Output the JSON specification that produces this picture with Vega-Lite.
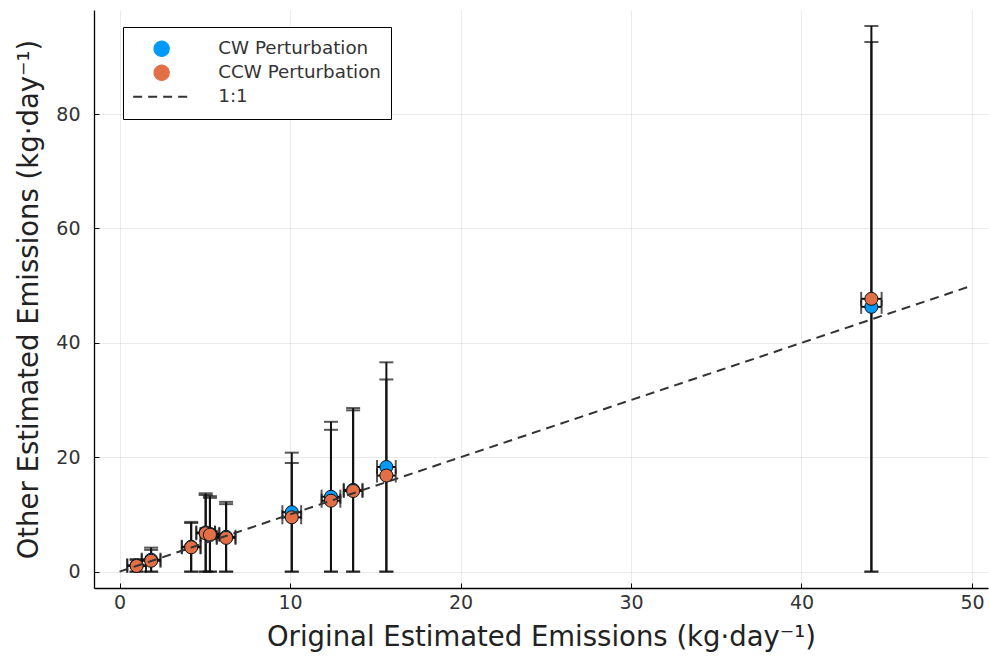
{
  "$schema": "https://vega.github.io/schema/vega-lite/v6.json",
  "width": 894,
  "height": 578,
  "autosize": "none",
  "padding": {"left": 94, "top": 10, "right": 1, "bottom": 69},
  "config": {
    "view": {"stroke": null},
    "font": "DejaVu Sans",
    "axis": {
      "domainColor": "#000000",
      "domainWidth": 1.3,
      "tickColor": "#000000",
      "tickSize": -5,
      "gridColor": "#000000",
      "gridOpacity": 0.08,
      "gridWidth": 1,
      "labelFont": "DejaVu Sans",
      "labelFontSize": 19,
      "labelColor": "#333333",
      "titleFont": "DejaVu Sans",
      "titleFontSize": 27.5,
      "titleFontWeight": "normal",
      "titleColor": "#222222"
    },
    "legend": {
      "orient": "none",
      "legendX": 29,
      "legendY": 17,
      "title": null,
      "strokeColor": "#000000",
      "fillColor": "#ffffff",
      "padding": 10,
      "labelFont": "DejaVu Sans",
      "labelFontSize": 18.3,
      "labelColor": "#333333",
      "labelLimit": 400,
      "rowPadding": 0,
      "clipHeight": 23.5,
      "symbolOffset": 19.5,
      "labelOffset": 47.5
    }
  },
  "datasets": {
    "runs": [
      {"orig": 1.0, "series": "CW Perturbation", "est": 1.1, "lo": 0, "hi": 2.2, "xlo": 0.45, "xhi": 1.55},
      {"orig": 1.85, "series": "CW Perturbation", "est": 2.1, "lo": 0, "hi": 4.2, "xlo": 1.3, "xhi": 2.4},
      {"orig": 4.2, "series": "CW Perturbation", "est": 4.35, "lo": 0, "hi": 8.7, "xlo": 3.65, "xhi": 4.75},
      {"orig": 5.05, "series": "CW Perturbation", "est": 6.85, "lo": 0, "hi": 13.7, "xlo": 4.5, "xhi": 5.6},
      {"orig": 5.3, "series": "CW Perturbation", "est": 6.6, "lo": 0, "hi": 13.2, "xlo": 4.75, "xhi": 5.85},
      {"orig": 6.25, "series": "CW Perturbation", "est": 6.1, "lo": 0, "hi": 12.2, "xlo": 5.7, "xhi": 6.8},
      {"orig": 10.1, "series": "CW Perturbation", "est": 10.4, "lo": 0, "hi": 20.8, "xlo": 9.55, "xhi": 10.65},
      {"orig": 12.4, "series": "CW Perturbation", "est": 13.1, "lo": 0, "hi": 26.2, "xlo": 11.85, "xhi": 12.95},
      {"orig": 13.7, "series": "CW Perturbation", "est": 14.3, "lo": 0, "hi": 28.6, "xlo": 13.15, "xhi": 14.25},
      {"orig": 15.65, "series": "CW Perturbation", "est": 18.3, "lo": 0, "hi": 36.6, "xlo": 15.1, "xhi": 16.2},
      {"orig": 44.1, "series": "CW Perturbation", "est": 46.3, "lo": 0, "hi": 92.6, "xlo": 43.5, "xhi": 44.7},
      {"orig": 1.0, "series": "CCW Perturbation", "est": 1.0, "lo": 0, "hi": 2.0, "xlo": 0.45, "xhi": 1.55},
      {"orig": 1.85, "series": "CCW Perturbation", "est": 1.9, "lo": 0, "hi": 3.8, "xlo": 1.3, "xhi": 2.4},
      {"orig": 4.2, "series": "CCW Perturbation", "est": 4.25, "lo": 0, "hi": 8.5, "xlo": 3.65, "xhi": 4.75},
      {"orig": 5.05, "series": "CCW Perturbation", "est": 6.7, "lo": 0, "hi": 13.4, "xlo": 4.5, "xhi": 5.6},
      {"orig": 5.3, "series": "CCW Perturbation", "est": 6.45, "lo": 0, "hi": 12.9, "xlo": 4.75, "xhi": 5.85},
      {"orig": 6.25, "series": "CCW Perturbation", "est": 5.9, "lo": 0, "hi": 11.8, "xlo": 5.7, "xhi": 6.8},
      {"orig": 10.1, "series": "CCW Perturbation", "est": 9.5, "lo": 0, "hi": 19.0, "xlo": 9.55, "xhi": 10.65},
      {"orig": 12.4, "series": "CCW Perturbation", "est": 12.4, "lo": 0, "hi": 24.8, "xlo": 11.85, "xhi": 12.95},
      {"orig": 13.7, "series": "CCW Perturbation", "est": 14.1, "lo": 0, "hi": 28.2, "xlo": 13.15, "xhi": 14.25},
      {"orig": 15.65, "series": "CCW Perturbation", "est": 16.8, "lo": 0, "hi": 33.6, "xlo": 15.1, "xhi": 16.2},
      {"orig": 44.1, "series": "CCW Perturbation", "est": 47.7, "lo": 0, "hi": 95.4, "xlo": 43.5, "xhi": 44.7}
    ],
    "identity": [
      {"orig": 0, "est": 0, "series": "1:1"},
      {"orig": 50, "est": 50, "series": "1:1"}
    ]
  },
  "layer": [
    {
      "data": {"name": "runs"},
      "mark": {"type": "errorbar", "ticks": {"size": 14, "thickness": 2, "color": "#111111"}, "color": "#111111", "thickness": 2},
      "encoding": {
        "x": {"field": "orig", "type": "quantitative", "scale": {"domain": [-1.5, 50.94], "nice": false, "zero": false},
              "axis": {"values": [0, 10, 20, 30, 40, 50], "title": "Original Estimated Emissions (kg·day⁻¹)", "labelPadding": 10, "titlePadding": 11}},
        "y": {"field": "lo", "type": "quantitative", "scale": {"domain": [-2.86, 98.2], "nice": false, "zero": false},
              "axis": {"values": [0, 20, 40, 60, 80], "title": "Other Estimated Emissions (kg·day⁻¹)", "labelPadding": 19, "titlePadding": 12}},
        "y2": {"field": "hi"}
      }
    },
    {
      "data": {"name": "runs"},
      "mark": {"type": "errorbar", "ticks": {"size": 14, "thickness": 2, "color": "#111111"}, "color": "#111111", "thickness": 2},
      "encoding": {
        "x": {"field": "xlo", "type": "quantitative", "title": "Original Estimated Emissions (kg·day⁻¹)"},
        "x2": {"field": "xhi"},
        "y": {"field": "est", "type": "quantitative", "title": "Other Estimated Emissions (kg·day⁻¹)"}
      }
    },
    {
      "data": {"name": "runs"},
      "mark": {"type": "point", "shape": "circle", "filled": true, "size": 170, "opacity": 1, "stroke": "#111111", "strokeWidth": 1},
      "encoding": {
        "x": {"field": "orig", "type": "quantitative", "title": "Original Estimated Emissions (kg·day⁻¹)"},
        "y": {"field": "est", "type": "quantitative", "title": "Other Estimated Emissions (kg·day⁻¹)"},
        "color": {
          "field": "series",
          "type": "nominal",
          "sort": null,
          "scale": {"domain": ["CW Perturbation", "CCW Perturbation", "1:1"], "range": ["#009AFA", "#E36F47", "#333333"]},
          "legend": {
            "encode": {
              "symbols": {
                "update": {
                  "shape": {"signal": "datum.value === '1:1' ? 'stroke' : 'circle'"},
                  "size": {"signal": "datum.value === '1:1' ? 3249 : 230"},
                  "fill": {"signal": "datum.value === '1:1' ? 'transparent' : (datum.value === 'CW Perturbation' ? '#009AFA' : '#E36F47')"},
                  "stroke": {"signal": "datum.value === '1:1' ? '#333333' : '#111111'"},
                  "strokeWidth": {"signal": "datum.value === '1:1' ? 2 : 1.2"},
                  "strokeDash": {"signal": "datum.value === '1:1' ? [9, 6] : [1, 0]"},
                  "opacity": {"value": 1}
                }
              }
            }
          }
        }
      }
    },
    {
      "data": {"name": "identity"},
      "mark": {"type": "line", "strokeDash": [9, 6], "strokeWidth": 2},
      "encoding": {
        "x": {"field": "orig", "type": "quantitative"},
        "y": {"field": "est", "type": "quantitative"},
        "color": {
          "field": "series",
          "type": "nominal",
          "legend": {
            "encode": {
              "symbols": {
                "update": {
                  "shape": {"signal": "datum.value === '1:1' ? 'stroke' : 'circle'"},
                  "size": {"signal": "datum.value === '1:1' ? 3249 : 230"},
                  "fill": {"signal": "datum.value === '1:1' ? 'transparent' : (datum.value === 'CW Perturbation' ? '#009AFA' : '#E36F47')"},
                  "stroke": {"signal": "datum.value === '1:1' ? '#333333' : '#111111'"},
                  "strokeWidth": {"signal": "datum.value === '1:1' ? 2 : 1.2"},
                  "strokeDash": {"signal": "datum.value === '1:1' ? [9, 6] : [1, 0]"},
                  "opacity": {"value": 1}
                }
              }
            }
          }
        }
      }
    }
  ]
}
